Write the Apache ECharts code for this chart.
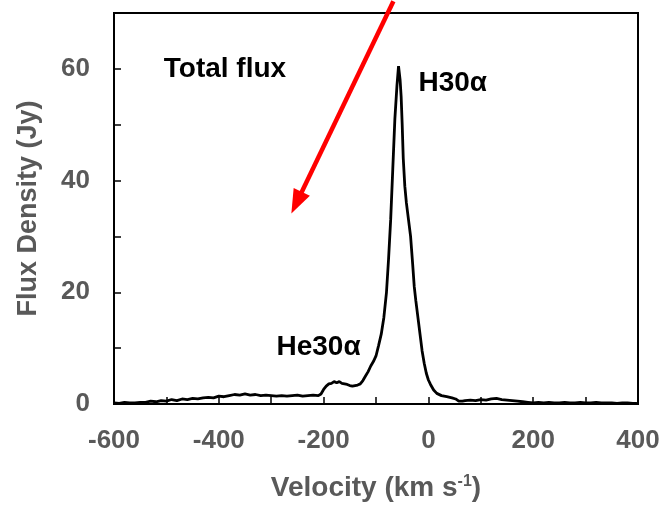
<!DOCTYPE html>
<html>
<head>
<meta charset="utf-8">
<script src="https://cdn.jsdelivr.net/npm/echarts@6/dist/echarts.min.js"></script>
<style>html,body{margin:0;padding:0;background:#fff}#c{width:666px;height:507px}</style>
</head>
<body>
<div id="c"></div>
<script>
const velocity = [-600,-590,-580,-570,-560,-550,-540,-530,-520,-510,-500,-490,-480,-470,-460,-450,-440,-430,-420,-410,-400,-390,-380,-370,-360,-350,-340,-330,-320,-310,-300,-290,-280,-270,-260,-250,-240,-230,-220,-210,-205,-200,-195,-190,-185,-180,-175,-170,-165,-160,-155,-150,-145,-140,-135,-130,-125,-120,-115,-110,-105,-100,-95,-90,-85,-80,-76,-72,-68,-64,-60,-57,-54,-52,-50,-48,-45,-42,-38,-34,-30,-27,-24,-20,-16,-12,-8,-4,0,4,10,16,25,35,45,52,58,65,70,80,90,100,110,120,130,140,150,160,170,180,190,200,210,220,230,240,250,260,270,280,290,300,310,320,330,340,350,360,370,380,390,398];
const flux = [0.2,0.1,0.3,0.2,0.2,0.3,0.3,0.5,0.4,0.6,0.5,0.8,0.6,0.9,0.8,1.0,0.9,1.1,1.2,1.1,1.4,1.3,1.5,1.7,1.6,1.8,1.6,1.7,1.5,1.6,1.5,1.4,1.5,1.4,1.5,1.6,1.4,1.5,1.6,1.5,1.8,2.6,3.2,3.6,3.7,4.0,3.8,4.0,3.7,3.6,3.5,3.3,3.2,3.3,3.4,3.6,4.2,5.0,5.8,6.8,7.6,8.6,10.5,12.5,15.5,20,26,33,42,51,57,60.5,58,55,50,44,39,36,33,30,25,21,18.5,15.5,12.5,9.5,7.3,5.5,4.3,3.5,2.5,1.9,1.5,1.3,1.1,0.9,0.5,0.5,0.6,0.7,0.6,0.8,0.7,0.9,1.0,0.8,0.7,0.6,0.5,0.4,0.3,0.2,0.3,0.2,0.3,0.2,0.2,0.3,0.2,0.2,0.3,0.2,0.2,0.3,0.2,0.2,0.2,0.1,0.2,0.2,0.1,0.1];
const xTickLabels = [-600,-400,-200,0,200,400];
const yTickLabels = [0,20,40,60];
const annotations = [
  {text:'Total flux', v:-505, f:60},
  {text:'H30α', v:-19, f:57.5},
  {text:'He30α', v:-290, f:10.2}
];
const arrowFrom = [-66.8, 72.1];
const arrowTo = [-261.5, 34.1];

const FONT = "'Liberation Sans', Arial, sans-serif";
const GRAY = '#595959';
const chart = echarts.init(document.getElementById('c'));
chart.setOption({
  animation:false,
  grid:{left:114, top:13, right:28, bottom:103, show:true, borderColor:'#000', borderWidth:2},
  xAxis:{
    type:'value', min:-600, max:400, interval:100,
    axisLine:{onZero:false, lineStyle:{color:'#000', width:2}},
    axisTick:{inside:true, length:7, lineStyle:{color:'#000', width:1.5}},
    splitLine:{show:false},
    axisLabel:{margin:24, color:GRAY, fontFamily:FONT, fontWeight:'bold', fontSize:26,
      formatter:v=>xTickLabels.includes(v)?String(v):''},
    name:'Velocity (km s{sup|-1})', nameLocation:'middle', nameGap:70,
    nameTextStyle:{color:GRAY, fontFamily:FONT, fontWeight:'bold', fontSize:28,
      rich:{sup:{fontSize:16, color:GRAY, fontFamily:FONT, fontWeight:'bold', verticalAlign:'top', padding:[0,0,12,0]}}}
  },
  yAxis:{
    type:'value', min:0, max:70, interval:10,
    axisLine:{onZero:false, lineStyle:{color:'#000', width:2}},
    axisTick:{inside:true, length:7, lineStyle:{color:'#000', width:1.5}},
    splitLine:{show:false},
    axisLabel:{margin:24, color:GRAY, fontFamily:FONT, fontWeight:'bold', fontSize:26,
      formatter:v=>yTickLabels.includes(v)?String(v):''},
    name:'Flux Density (Jy)', nameLocation:'middle', nameGap:72,
    nameTextStyle:{color:GRAY, fontFamily:FONT, fontWeight:'bold', fontSize:27}
  },
  series:[{
    type:'line', data:velocity.map((v,i)=>[v, flux[i]]),
    showSymbol:false, symbol:'none',
    lineStyle:{color:'#000', width:2.8}, clip:true
  }]
});

const g = [];
annotations.forEach(a=>{
  const p = chart.convertToPixel({gridIndex:0},[a.v,a.f]);
  g.push({type:'text', x:p[0], y:p[1], style:{text:a.text, fill:'#000', font:"bold 28px " + FONT, textAlign:'left', textVerticalAlign:'middle'}});
});
const p0 = chart.convertToPixel({gridIndex:0}, arrowFrom);
const p1 = chart.convertToPixel({gridIndex:0}, arrowTo);
const dx = p1[0]-p0[0], dy = p1[1]-p0[1], L = Math.hypot(dx,dy);
const ux = dx/L, uy = dy/L, headLen = 24, headW = 9;
const bx = p1[0]-ux*headLen, by = p1[1]-uy*headLen;
g.push({type:'line', shape:{x1:p0[0], y1:p0[1], x2:bx+ux*2, y2:by+uy*2}, style:{stroke:'#ff0000', lineWidth:4.5}});
g.push({type:'polygon', shape:{points:[[p1[0],p1[1]],[bx-uy*headW, by+ux*headW],[bx+uy*headW, by-ux*headW]]}, style:{fill:'#ff0000'}});
chart.setOption({graphic:g});
</script>
</body>
</html>
